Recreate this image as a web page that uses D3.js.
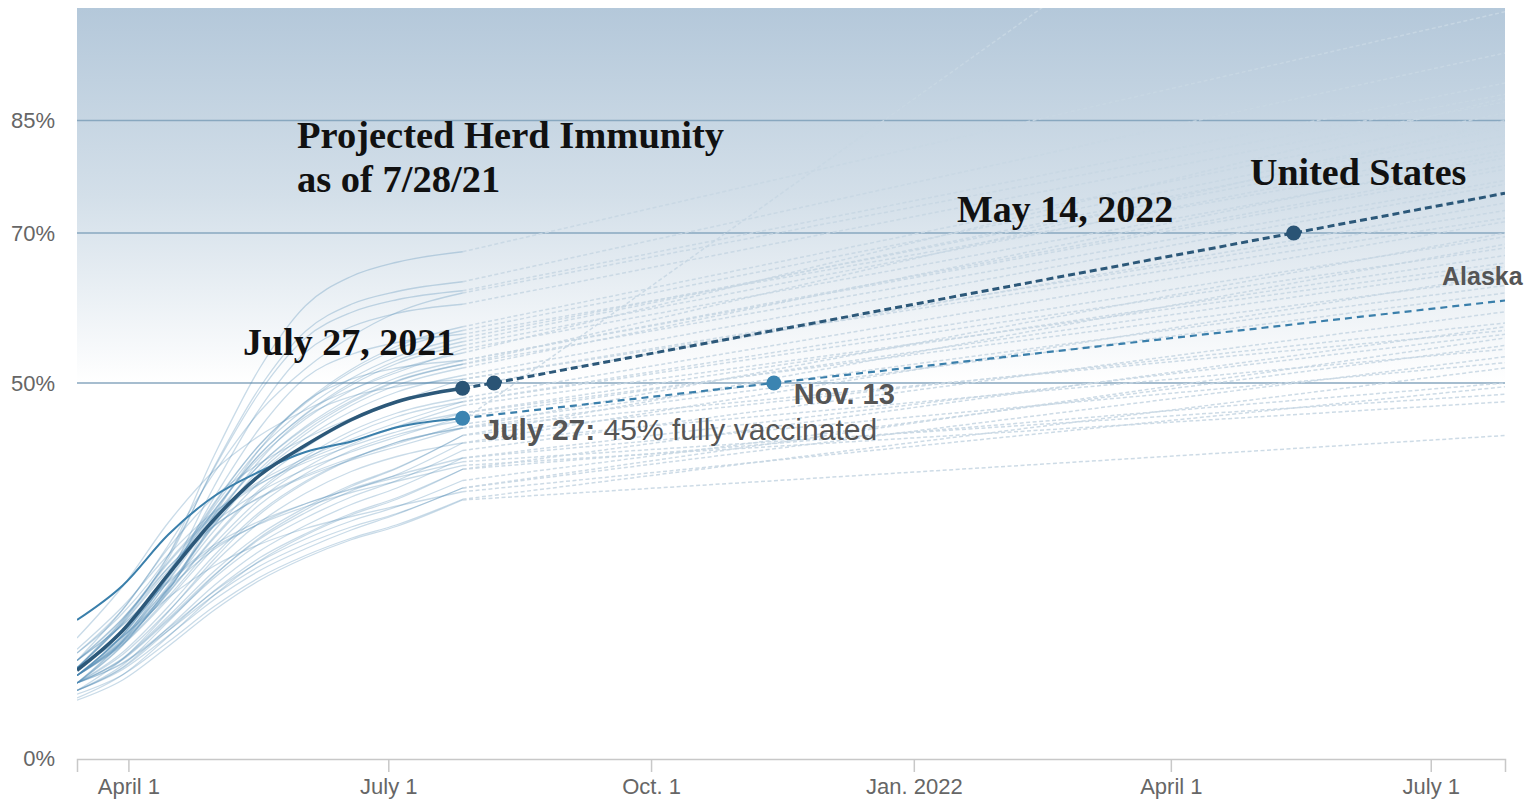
<!DOCTYPE html>
<html><head><meta charset="utf-8">
<script src="https://cdn.jsdelivr.net/npm/d3@7"></script>
<style>body{margin:0;background:#fff;} svg{display:block;}</style>
</head><body><svg id="chart" width="1538" height="802"></svg>
<script>
// ---------- DATA ----------
const histDates = ["2021-03-14","2021-03-30","2021-04-15","2021-05-01","2021-05-17","2021-06-02","2021-06-18","2021-07-04","2021-07-27"];
const projDates = ["2021-07-27","2022-07-27"];

const usHist = [11.7,17.0,24.5,31.8,37.7,41.7,45.1,47.5,49.3];
const usProjDates = ["2021-07-27","2021-08-07","2022-05-14","2022-07-27"];
const usProj = [49.3,50,70,75.3];
const usDotIdx = [0,1,2];

const alaskaHist = [18.4,23.0,29.8,34.9,38.2,40.8,42.2,44.1,45.3];
const alaskaProjDates = ["2021-07-27","2021-11-13","2022-07-27"];
const alaskaProj = [45.3,50,61];
const alaskaDotIdx = [0,1];

const stateHist = [
  [12,18.1,27.0,40.3,52.0,60.3,64.2,66.1,67.5],
  [13,18.6,26.6,38.8,49.4,56.9,60.5,62.2,63.5],
  [14,19.3,27.0,38.6,48.8,56.0,59.4,61.1,62.3],
  [14,19.8,28.4,38.0,46.2,51.9,56.2,59.4,62.0],
  [11,16.4,24.4,36.2,46.6,54.1,57.5,59.3,60.5],
  [10,15.7,24.3,33.8,41.8,47.5,51.8,54.9,57.5],
  [11,16.5,24.8,34.0,41.8,47.3,51.5,54.5,57.0],
  [11,16.4,24.5,33.5,41.2,46.6,50.6,53.5,56.0],
  [10,15.5,23.7,32.8,40.5,45.9,50.0,53.0,55.5],
  [12,16.9,24.0,34.7,44.0,50.7,53.8,55.4,56.5],
  [16,22.9,31.4,38.3,43.0,46.4,49.1,51.4,54.5],
  [11,16.3,24.2,33.0,40.5,45.8,49.7,52.6,55.0],
  [12,17.0,24.6,33.0,40.1,45.2,49.0,51.7,54.0],
  [11,15.6,22.3,32.4,41.2,47.5,50.5,52.0,53.0],
  [11,16.0,23.6,32.0,39.1,44.2,48.0,50.7,53.0],
  [12,16.9,24.2,32.3,39.1,44.0,47.6,50.3,52.5],
  [10,15.0,22.6,31.0,38.1,43.2,47.0,49.7,52.0],
  [11,15.8,23.0,31.0,37.8,42.6,46.2,48.8,51.0],
  [12,16.2,22.4,31.6,39.7,45.5,48.2,49.5,50.5],
  [13,19.8,28.0,34.8,39.3,42.6,45.3,47.5,50.5],
  [11,15.6,22.6,30.3,36.8,41.4,44.9,47.4,49.5],
  [11,15.4,22.1,29.5,35.8,40.2,43.6,46.0,48.0],
  [12,18.4,26.2,32.6,36.9,40.0,42.5,44.7,47.5],
  [12,18.3,26.0,32.3,36.5,39.7,42.1,44.2,47.0],
  [11,15.4,22.0,29.3,35.5,39.8,43.1,45.5,47.5],
  [14.5,20.2,27.1,32.8,36.6,39.4,41.6,43.5,46.0],
  [12,18.0,25.4,31.4,35.5,38.5,40.8,42.8,45.5],
  [11,15.2,21.5,28.5,34.5,38.7,41.8,44.1,46.0],
  [9,13.2,19.5,26.5,32.5,36.7,39.8,42.1,44.0],
  [12,17.9,25.0,30.9,34.8,37.7,40.0,41.9,44.5],
  [13,18.6,25.4,31.0,34.7,37.5,39.7,41.5,44.0],
  [10,14.1,20.2,27.0,32.8,36.9,39.9,42.1,44.0],
  [9,12.4,18.2,24.3,29.4,33.1,36.2,38.6,43.0],
  [10,13.3,18.9,24.9,29.8,33.4,36.4,38.7,43.0],
  [10,13.8,19.6,26.0,31.4,35.3,38.2,40.2,42.0],
  [10,13.2,18.6,24.4,29.2,32.7,35.6,37.8,42.0],
  [10,13.1,18.4,24.0,28.6,32.0,34.8,37.0,41.0],
  [9,12.1,17.4,23.0,27.6,31.0,33.8,36.0,40.0],
  [11,16.2,22.6,27.8,31.3,33.9,35.9,37.7,40.0],
  [13,17.8,23.6,28.4,31.6,33.9,35.8,37.4,39.5],
  [13,17.7,23.4,28.1,31.2,33.5,35.4,36.9,39.0],
  [8,11.1,16.2,21.7,26.3,29.7,32.4,34.5,38.5],
  [9,12.0,17.0,22.3,26.7,29.9,32.6,34.7,38.5],
  [10,12.7,17.3,22.2,26.2,29.2,31.6,33.5,37.0],
  [10,12.6,17.0,21.7,25.6,28.5,30.8,32.6,36.0],
  [12,16.2,21.4,25.6,28.5,30.6,32.2,33.6,35.5],
  [9,11.8,16.3,21.1,25.0,27.9,30.4,32.5,36.0],
  [8.5,11.1,15.5,20.2,24.1,27.0,29.3,31.1,34.5],
  [7.7,10.4,14.9,19.7,23.7,26.7,29.1,30.9,34.4],
  [10,15.1,22.8,31.3,38.5,43.6,47.4,50.2,52.5],
  [11,15.1,21.2,28.0,33.8,37.9,41.0,43.1,45.0]
];
const stateProjEnd = [99.5,94,90,88.5,87.5,86,84.5,83,84,81,80,82,88,79,78.5,77,80.5,76.5,73,72,74,71.5,68,66,69.5,64,65.5,67,70,63,57,62,68.5,58,64.5,54.5,59.5,52.7,56.5,48.5,47.5,57.5,50,55,53.5,49.5,56,52,43,85,144];

const yTickValues = [0,50,70,85];
const yTickLabels = ["0%","50%","70%","85%"];
const gridValues = [50,70,85];
const xTickDates = ["2021-04-01","2021-07-01","2021-10-01","2022-01-01","2022-04-01","2022-07-01"];
const xTickLabels = ["April 1","July 1","Oct. 1","Jan. 2022","April 1","July 1"];
const xDomain = ["2021-03-14","2022-07-27"];

// ---------- CHART ----------
const parse = d3.timeParse("%Y-%m-%d");
const svg = d3.select("#chart");
const L = 77, R = 1505, T = 8, B = 758;
const x = d3.scaleTime().domain(xDomain.map(parse)).range([L, R]);
const y = d3.scaleLinear().domain([0, 100]).range([B, T]);

const defs = svg.append("defs");
const grad = defs.append("linearGradient").attr("id","bg")
  .attr("gradientUnits","userSpaceOnUse").attr("x1",0).attr("x2",0).attr("y1",T).attr("y2",y(50));
grad.append("stop").attr("offset","0").attr("stop-color","#b4c8da");
grad.append("stop").attr("offset","0.5").attr("stop-color","#d3dfe9");
grad.append("stop").attr("offset","1").attr("stop-color","#ffffff");
defs.append("clipPath").attr("id","clip").append("rect")
  .attr("x",L).attr("y",T).attr("width",R-L).attr("height",B-T);

svg.append("rect").attr("x",L).attr("y",T).attr("width",R-L).attr("height",y(50)-T).attr("fill","url(#bg)");

// grid lines
svg.append("g").selectAll("line").data(gridValues).join("line")
  .attr("x1",L).attr("x2",R).attr("y1",d=>y(d)).attr("y2",d=>y(d))
  .attr("stroke","#88a7bf").attr("stroke-width",1.4);

// y labels
svg.append("g").selectAll("text").data(yTickValues).join("text")
  .attr("x",55).attr("y",d=>y(d)).attr("dy","0.35em").attr("text-anchor","end")
  .attr("font-family","'Liberation Sans', Arial, sans-serif").attr("font-size",22)
  .attr("fill","#666").text((d,i)=>yTickLabels[i]);

// x axis
const xAxis = d3.axisBottom(x).tickValues(xTickDates.map(parse))
  .tickFormat((d,i)=>xTickLabels[i]).tickSize(13).tickSizeOuter(13).tickPadding(6);
const gx = svg.append("g").attr("transform",`translate(0,${B+1})`).call(xAxis);
gx.select(".domain").attr("stroke","#c8c8c8").attr("stroke-width",1.5);
gx.selectAll(".tick line").attr("stroke","#c8c8c8").attr("stroke-width",1.5);
gx.selectAll(".tick text").attr("font-family","'Liberation Sans', Arial, sans-serif")
  .attr("font-size",22).attr("fill","#666");

const line = d3.line().x(d=>x(d[0])).y(d=>y(d[1])).curve(d3.curveMonotoneX);
const lin = d3.line().x(d=>x(d[0])).y(d=>y(d[1]));
const hd = histDates.map(parse);
const pd = projDates.map(parse);

const plot = svg.append("g").attr("clip-path","url(#clip)");
// state projections (dashed)
plot.append("g").selectAll("path").data(stateHist).join("path")
  .attr("d",(s,i)=>lin([[pd[0], s[s.length-1]],[pd[1], stateProjEnd[i]]]))
  .attr("fill","none").attr("stroke","#c8d7e3").attr("stroke-width",1.5)
  .attr("stroke-dasharray","4,2.5").attr("opacity",0.9);
// state history (solid)
plot.append("g").selectAll("path").data(stateHist).join("path")
  .attr("d",s=>line(s.map((v,j)=>[hd[j],v])))
  .attr("fill","none").attr("stroke","#4c88b3").attr("stroke-width",1.3).attr("opacity",0.3);

// Alaska
plot.append("path").attr("d",line(alaskaHist.map((v,j)=>[hd[j],v])))
  .attr("fill","none").attr("stroke","#3a7fab").attr("stroke-width",2);
const akp = alaskaProjDates.map(parse);
plot.append("path").attr("d",lin(alaskaProj.map((v,j)=>[akp[j],v])))
  .attr("fill","none").attr("stroke","#3a7fab").attr("stroke-width",2.2).attr("stroke-dasharray","7,5");

// US
plot.append("path").attr("d",line(usHist.map((v,j)=>[hd[j],v])))
  .attr("fill","none").attr("stroke","#2c5879").attr("stroke-width",3.5);
const usp = usProjDates.map(parse);
plot.append("path").attr("d",lin(usProj.map((v,j)=>[usp[j],v])))
  .attr("fill","none").attr("stroke","#2c5879").attr("stroke-width",3).attr("stroke-dasharray","7,4");

// dots
svg.append("g").selectAll("circle").data(alaskaDotIdx).join("circle")
  .attr("cx",i=>x(akp[i])).attr("cy",i=>y(alaskaProj[i])).attr("r",7.5).attr("fill","#3b84b1");
svg.append("g").selectAll("circle").data(usDotIdx).join("circle")
  .attr("cx",i=>x(usp[i])).attr("cy",i=>y(usProj[i])).attr("r",7.5).attr("fill","#2a5475");

// annotations
const serif = "'Liberation Serif','Times New Roman',serif";
const sans = "'Liberation Sans', Arial, sans-serif";
function txt(xp, yp, s, opt) {
  return svg.append("text").attr("x",xp).attr("y",yp).text(s)
    .attr("font-family",opt.f).attr("font-size",opt.s).attr("font-weight",opt.w||"bold").attr("fill",opt.c);
}
txt(297,148,"Projected Herd Immunity",{f:serif,s:38.5,c:"#111"});
txt(297,192,"as of 7/28/21",{f:serif,s:38.5,c:"#111"});
txt(243,355,"July 27, 2021",{f:serif,s:38,c:"#111"});
txt(957,222,"May 14, 2022",{f:serif,s:38,c:"#111"});
txt(1250,185,"United States",{f:serif,s:38,c:"#111"});
txt(x(akp[1])+20, y(50)+21,"Nov. 13",{f:sans,s:29,c:"#555"});
txt(1442,285,"Alaska",{f:sans,s:25,c:"#555"});
const t = svg.append("text").attr("x",x(akp[0])+21).attr("y",y(alaskaProj[0])+22)
  .attr("font-family",sans).attr("font-size",30).attr("fill","#555");
t.append("tspan").attr("font-weight","bold").text("July 27:");
t.append("tspan").text(" 45% fully vaccinated");
</script></body></html>
